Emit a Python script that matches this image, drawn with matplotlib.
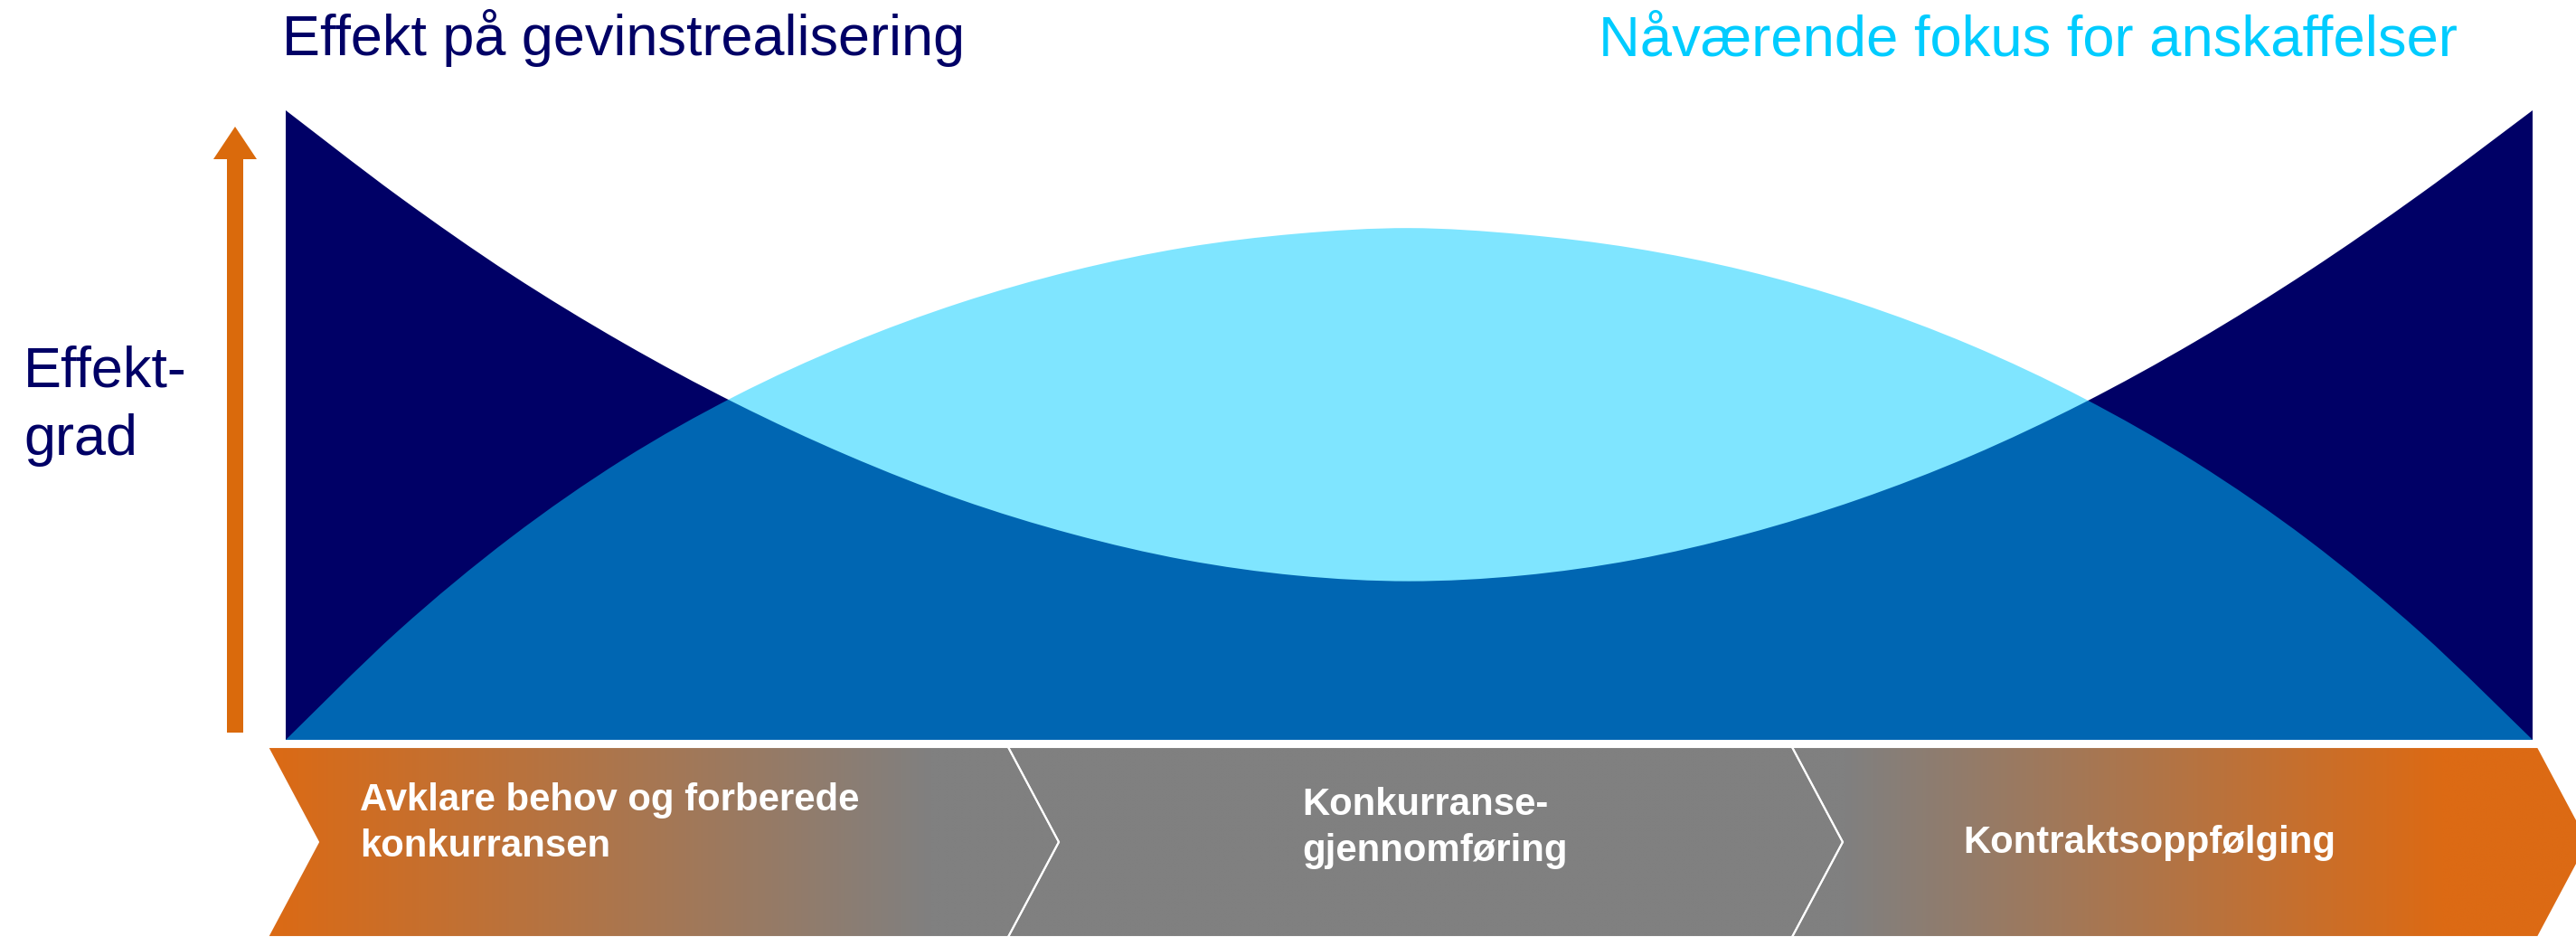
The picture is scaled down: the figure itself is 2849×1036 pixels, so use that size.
import numpy as np
import matplotlib
matplotlib.use("Agg")
import matplotlib.pyplot as plt
from matplotlib.patches import Polygon, FancyArrow, PathPatch
from matplotlib.path import Path

# curve values (x: position along the process 0-100, y: effect 0-100)
pos = [0, 5, 10, 15, 20, 25, 30, 35, 40, 45, 50, 55, 60, 65, 70, 75, 80, 85, 90, 95, 100]
effekt = [100, 86.4, 74.0, 63.1, 53.5, 45.2, 38.2, 32.7, 28.6, 26.1, 25.2,
          26.1, 28.6, 32.7, 38.2, 45.1, 53.5, 63.3, 74.4, 86.7, 100]
fokus = [0, 17.3, 32.1, 44.5, 54.6, 62.8, 69.4, 74.5, 78.2, 80.4, 81.3,
         80.3, 78.1, 74.5, 69.4, 62.7, 54.3, 44.1, 31.8, 17.1, 0]

title_left = "Effekt på gevinstrealisering"
title_right = "Nåværende fokus for anskaffelser"
y_label = "Effekt-\ngrad"
stages = ["Avklare behov og forberede\nkonkurransen", "Konkurranse-\ngjennomføring", "Kontraktsoppfølging"]

NAVY = "#000066"
CYAN = "#00CCFF"
ORANGE = np.array([220, 106, 20]) / 255
GRAY = np.array([128, 128, 128]) / 255


def smooth_area(xs, ys):
    # closed area under a curve through the read points (Catmull-Rom drawn as cubic Bezier)
    p = np.column_stack([xs, ys]).astype(float)
    ext = np.vstack([p[0], p, p[-1]])
    verts = [(p[0, 0], 0.0), tuple(p[0])]
    codes = [Path.MOVETO, Path.LINETO]
    for i in range(1, len(p)):
        p0, p1, p2, p3 = ext[i - 1], ext[i], ext[i + 1], ext[i + 2]
        verts += [tuple(p1 + (p2 - p0) / 6), tuple(p2 - (p3 - p1) / 6), tuple(p2)]
        codes += [Path.CURVE4] * 3
    verts += [(p[-1, 0], 0.0), (p[0, 0], 0.0)]
    codes += [Path.LINETO, Path.CLOSEPOLY]
    return Path(verts, codes)


W, H = 2849, 1036
plt.rcParams["font.family"] = ["Liberation Sans", "DejaVu Sans"]
fig = plt.figure(figsize=(W / 100, H / 100), dpi=100)

# overlay in pixel units for arrow, titles and the process chevrons
ov = fig.add_axes([0, 0, 1, 1])
ov.set_xlim(0, W)
ov.set_ylim(H, 0)
ov.axis("off")

# chart area
ax = fig.add_axes([316 / W, (H - 818) / H, 2485 / W, 696 / H])
ax.set_xlim(0, 100)
ax.set_ylim(0, 100)
ax.axis("off")
ax.add_patch(PathPatch(smooth_area(pos, effekt), facecolor=NAVY, lw=0))
ax.add_patch(PathPatch(smooth_area(pos, fokus), facecolor=CYAN, alpha=0.5, lw=0))

# titles
ov.text(312, 61, title_left, color=NAVY, fontsize=45.4, va="baseline", ha="left")
ov.text(1768, 61, title_right, color=CYAN, fontsize=45.6, va="baseline", ha="left")
ov.text(26, 503, y_label, color=NAVY, fontsize=45.4, va="baseline", ha="left", linespacing=1.36)

# vertical arrow
ov.add_patch(FancyArrow(260, 810, 0, -670, width=18, head_width=48, head_length=36,
                        length_includes_head=True, color="#DA6A0C", lw=0))

# chevrons
edges = [296, 1115, 1982, 2807]
depth = 56
top, bot = 826, 1036
mid = (top + bot) / 2
grad_stops = [([296, 1030], [ORANGE, GRAY]), (None, None), ([2040, 2700], [GRAY, ORANGE])]
text_pos = [(398, 947), (1440, 952), (2171, 943)]

for i, label in enumerate(stages):
    x0, x1 = edges[i], edges[i + 1]
    pts = [(x0, top), (x1, top), (x1 + depth, mid), (x1, bot), (x0, bot), (x0 + depth, mid)]
    poly = Polygon(pts, closed=True, facecolor="none", edgecolor="none")
    ov.add_patch(poly)
    xs = np.linspace(x0, x1 + depth, 600)
    stops, cols = grad_stops[i]
    if stops is None:
        rgb = np.tile(GRAY, (len(xs), 1))
    else:
        rgb = np.stack([np.interp(xs, stops, [cols[0][c], cols[1][c]]) for c in range(3)], axis=1)
    im = ov.imshow(rgb[np.newaxis, :, :], extent=[x0, x1 + depth, bot, top], aspect="auto",
                   interpolation="bilinear", zorder=1)
    im.set_clip_path(poly)
    ov.add_patch(Polygon(pts, closed=True, facecolor="none", edgecolor="white", lw=1.5, zorder=2))
    tx, ty = text_pos[i]
    ov.text(tx, ty, label, color="white", fontsize=30.2, fontweight="bold",
            va="baseline", ha="left", linespacing=1.35, zorder=3)

ov.set_xlim(0, W)
ov.set_ylim(H, 0)

fig.savefig("out.png", dpi=100)
